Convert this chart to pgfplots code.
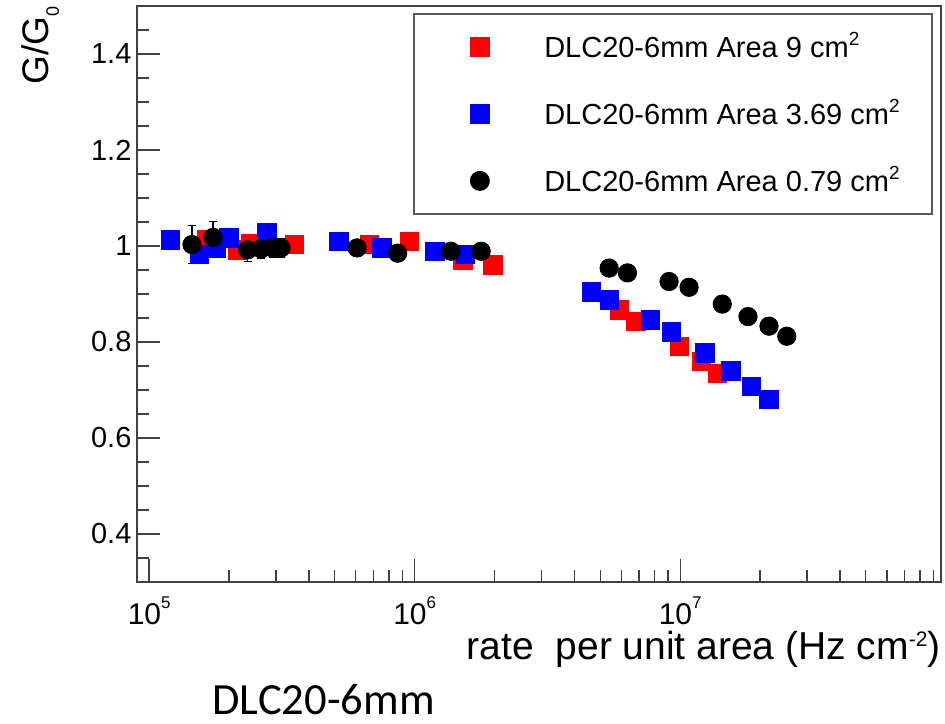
\documentclass[border=0pt]{standalone}
\usepackage{fontspec}
\setmainfont{Liberation Sans}
\newfontfamily\calibri{Carlito}
\usepackage{pgfplots}
\usepackage{pgfplotstable}
\pgfplotsset{compat=1.18}
\newcommand{\lsup}[1]{\raisebox{6pt}{\fontsize{9.5}{9.5}\selectfont #1}}
\newcommand{\xsup}[1]{\raisebox{8pt}{\fontsize{8.5}{8.5}\selectfont #1}}
\pgfplotsset{
  legmark/.style={legend image code/.code={\draw[##1] plot coordinates {(0pt,0pt)}; \path[draw=none,fill=none] (-17pt,0pt) -- (4.7pt,0pt);}},
}
\pgfplotstableread{
x y
1.64e5 1.013
2.16e5 0.992
2.42e5 1.006
3.52e5 1.003
6.75e5 1.003
9.55e5 1.010
1.52e6 0.971
1.97e6 0.961
5.89e6 0.867
6.81e6 0.843
9.91e6 0.791
1.20e7 0.760
1.38e7 0.735
}\redtab
\pgfplotstableread{
x y
1.20e5 1.013
1.55e5 0.982
1.79e5 0.996
2.00e5 1.017
2.78e5 1.027
5.18e5 1.010
7.52e5 0.996
1.19e6 0.989
1.55e6 0.982
4.63e6 0.904
5.40e6 0.888
7.74e6 0.846
9.27e6 0.821
1.24e7 0.777
1.55e7 0.740
1.85e7 0.708
2.16e7 0.680
}\bluetab
\pgfplotstableread{
x y ey
1.45e5 1.003 0.040
1.74e5 1.018 0.033
2.35e5 0.992 0.025
2.64e5 0.994 0.020
2.92e5 0.996 0.020
3.14e5 0.996 0.020
6.07e5 0.996 0.0
8.63e5 0.985 0.0
1.37e6 0.989 0.0
1.78e6 0.989 0.0
5.40e6 0.954 0.0
6.33e6 0.944 0.0
9.08e6 0.926 0.0
1.08e7 0.914 0.0
1.44e7 0.879 0.0
1.80e7 0.853 0.0
2.16e7 0.833 0.0
2.52e7 0.812 0.0
}\blacktab
\begin{document}
\begin{tikzpicture}
\begin{axis}[
  name=ax,
  scale only axis,
  width=402pt, height=288pt,
  xmode=log,
  xmin=9e4, xmax=9.6e7,
  ymin=0.3, ymax=1.5,
  axis line style={black!75, line width=0.9pt},
  tick style={black!75, line width=0.7pt},
  tick align=inside,
  xtick pos=left, ytick pos=left,
  major tick length=11.5pt, minor tick length=6pt,
  xtick={1e5,1e6,1e7},
  xticklabels={10\xsup{5},10\xsup{6},10\xsup{7}},
  minor xtick={2e5,3e5,4e5,5e5,6e5,7e5,8e5,9e5,2e6,3e6,4e6,5e6,6e6,7e6,8e6,9e6,2e7,3e7,4e7,5e7,6e7,7e7,8e7,9e7},
  ytick={0.4,0.6,0.8,1,1.2,1.4},
  yticklabels={0.4,0.6,0.8,1,1.2,1.4},
  minor ytick={0.35,0.45,0.5,0.55,0.65,0.7,0.75,0.85,0.9,0.95,1.05,1.1,1.15,1.25,1.3,1.35,1.45},
  xticklabel style={font=\fontsize{15}{17}\selectfont, anchor=base, inner sep=0pt, yshift=-21.5pt},
  yticklabel style={font=\fontsize{14.5}{16}\selectfont, anchor=east, inner sep=0pt, xshift=-2.6pt},
  xlabel={rate\ \ per unit area (Hz cm\raisebox{6.5pt}{\fontsize{10.5}{10.5}\selectfont -2})},
  xlabel style={at={(axis description cs:1,-0.1354)}, anchor=base east, font=\fontsize{19.5}{22}\selectfont, inner sep=0pt, text height=13.5pt},
  ylabel={G/G\raisebox{-5pt}{\fontsize{9}{9}\selectfont 0}},
  ylabel style={at={(axis description cs:-0.1095,1)}, anchor=base east, font=\fontsize{18.5}{22}\selectfont, inner sep=0pt},
  legend cell align=left,
  legend style={
    at={(rel axis cs:1,1)}, anchor=north east, xshift=-4.25pt, yshift=-3.5pt,
    draw=black!65, line width=0.8pt, fill=white,
    font=\fontsize{14.5}{17}\selectfont,
    inner xsep=16pt, inner ysep=11.25pt,
    row sep=23.15pt,
    nodes={inner sep=0pt, text height=10.4pt, text depth=0pt},
    /tikz/every odd column/.append style={column sep=27.5pt},
  },
]
\addplot[only marks, legmark, mark=square*, color=red, mark size=4.6pt] table[x=x,y=y] {\redtab};
\addlegendentry{DLC20-6mm Area 9 cm\lsup{2}}
\addplot[only marks, legmark, mark=square*, color=blue, mark size=4.6pt] table[x=x,y=y] {\bluetab};
\addlegendentry{DLC20-6mm Area 3.69 cm\lsup{2}}
\addplot[only marks, legmark, mark=*, color=black, mark size=4.6pt,
  error bars/.cd, y dir=both, y explicit,
  error bar style={black, line width=0.6pt},
  error mark options={rotate=90, mark size=2pt, black}]
  table[x=x,y=y,y error=ey] {\blacktab};
\addlegendentry{DLC20-6mm Area 0.79 cm\lsup{2}}
\end{axis}
\node[anchor=base west, inner sep=0pt, font=\calibri\fontsize{22.3}{25}\selectfont] at ([xshift=37.5pt,yshift=-66.5pt]ax.south west) {DLC20-6mm};
\pgfresetboundingbox
\path[use as bounding box] ([xshift=-68.5pt,yshift=-71pt]ax.south west) rectangle ([xshift=2pt,yshift=3pt]ax.north east);
\end{tikzpicture}
\end{document}
